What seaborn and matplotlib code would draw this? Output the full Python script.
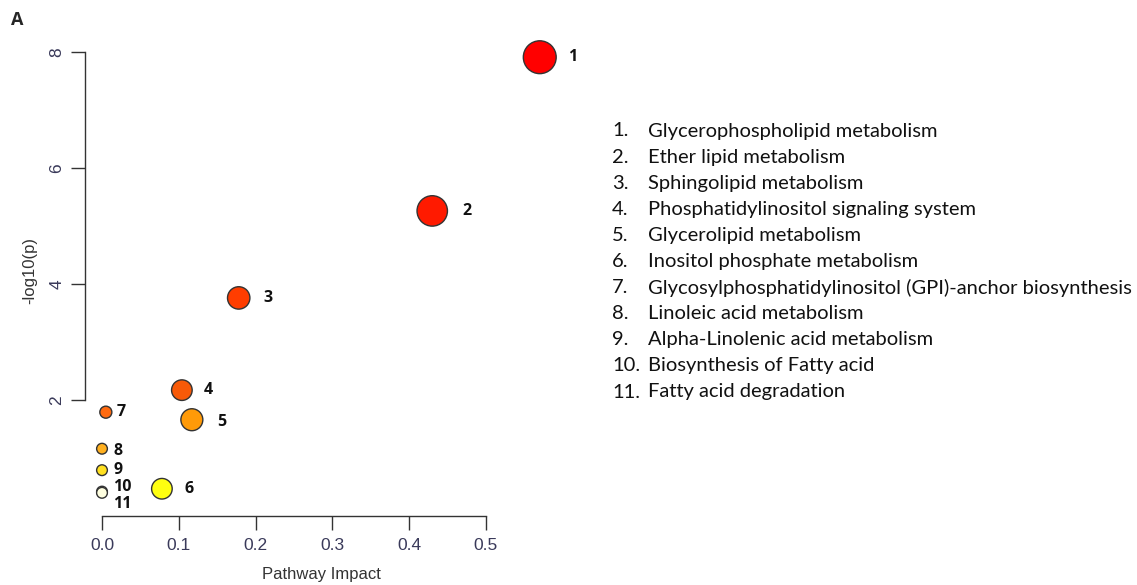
import matplotlib
matplotlib.use("Agg")
import matplotlib.pyplot as plt
import seaborn as sns
import pandas as pd

# pathway data
labels = ["1", "2", "3", "4", "5", "6", "7", "8", "9", "10", "11"]
impact = [0.570, 0.430, 0.178, 0.104, 0.117, 0.078, 0.005, 0.0, 0.0, 0.0, 0.0]
logp = [7.91, 5.26, 3.76, 2.17, 1.66, 0.47, 1.79, 1.16, 0.79, 0.42, 0.40]
colors = ["#FF0000", "#FF1A00", "#FF3D00", "#F85A08", "#FF9A08", "#FFFF10",
          "#FF6A10", "#FFB020", "#FFE020", "#FFFFE0", "#FFFFE0"]
sizes = [560, 480, 260, 220, 250, 220, 75, 60, 60, 60, 60]
pathways = ["Glycerophospholipid metabolism",
            "Ether lipid metabolism",
            "Sphingolipid metabolism",
            "Phosphatidylinositol signaling system",
            "Glycerolipid metabolism",
            "Inositol phosphate metabolism",
            "Glycosylphosphatidylinositol (GPI)-anchor biosynthesis",
            "Linoleic acid metabolism",
            "Alpha-Linolenic acid metabolism",
            "Biosynthesis of Fatty acid",
            "Fatty acid degradation"]

df = pd.DataFrame({"impact": impact, "logp": logp, "label": labels})

sns.set_style("white")
plt.rcParams["font.family"] = ["Liberation Sans", "DejaVu Sans"]

fig = plt.figure(figsize=(11.37, 5.85), dpi=100)
W, H = 1137, 585
# axes box in pixels: left 85, bottom 516, right 600, top 30
AX_L, AX_B, AX_R, AX_T = 85, 516, 600, 30
ax = fig.add_axes([AX_L / W, 1 - AX_B / H, (AX_R - AX_L) / W, (AX_B - AX_T) / H])

sns.scatterplot(data=df, x="impact", y="logp", hue="label", size="label",
                palette=dict(zip(labels, colors)), sizes=dict(zip(labels, sizes)),
                hue_order=labels, size_order=labels,
                edgecolor="#333333", linewidth=1.0, legend=False, ax=ax, zorder=3)

# x: 0.0 at 102 px, 0.5 at 486 px
px_per_unit = (486 - 102) / 0.5
ax.set_xlim(-(102 - AX_L) / px_per_unit, (AX_R - 102) / px_per_unit)
# y: 8 at 52 px, 58 px per unit, 0 at 516 px
ax.set_ylim(0, (AX_B - AX_T) / 58)

ax.spines[["top", "right"]].set_visible(False)
ax.spines["left"].set_bounds(2, 8)
ax.spines["bottom"].set_bounds(0, 0.5)
for s in ["left", "bottom"]:
    ax.spines[s].set_color("#333333")
    ax.spines[s].set_linewidth(1.0)

ax.set_xticks([0.0, 0.1, 0.2, 0.3, 0.4, 0.5])
ax.set_xticklabels(["0.0", "0.1", "0.2", "0.3", "0.4", "0.5"])
ax.set_yticks([2, 4, 6, 8])
ax.set_yticklabels(["2", "4", "6", "8"], rotation=90, va="center")
ax.tick_params(axis="both", length=10, width=1.0, color="#333333",
               labelsize=12.5, labelcolor="#3a3a5a", direction="out",
               bottom=True, left=True)
ax.tick_params(axis="x", pad=6)
ax.tick_params(axis="y", pad=5)

ax.set_xlabel("Pathway Impact", fontsize=12, color="#333333")
ax.set_ylabel("-log10(p)", fontsize=12, color="#333333")
ax.xaxis.set_label_coords((321 - AX_L) / (AX_R - AX_L), -(567 - AX_B) / (AX_B - AX_T))
ax.yaxis.set_label_coords(-(AX_L - 37) / (AX_R - AX_L), (AX_B - 270) / (AX_B - AX_T))

# number labels next to points
offsets = {"1": (20, 0), "2": (22, 0), "3": (18, 0), "4": (16, 0), "5": (18, -2),
           "6": (16, 0), "7": (8, 0), "8": (8, -2), "9": (8, 0), "10": (8, 3),
           "11": (8, -8)}
for lab, xv, yv in zip(labels, impact, logp):
    dx, dy = offsets[lab]
    ax.annotate(lab, (xv, yv), xytext=(dx, dy), textcoords="offset points",
                ha="left", va="center", fontsize=11.5, fontweight="bold",
                family=["Open Sans", "DejaVu Sans"], color="#111111")

# pathway list on the right
for i, name in enumerate(pathways):
    ypix = 131 + i * 26.1
    fig.text(612 / W, 1 - ypix / H, f"{i + 1}.", fontsize=14.5, va="center",
             ha="left", family=["Lato", "DejaVu Sans"], color="#111111")
    fig.text(648 / W, 1 - ypix / H, name, fontsize=14.5, va="center",
             ha="left", family=["Lato", "DejaVu Sans"], color="#111111")

fig.text(11 / W, 1 - 20 / H, "A", fontsize=13, fontweight="bold",
         va="center", ha="left", family=["Open Sans", "DejaVu Sans"])

fig.savefig("out.png", dpi=100)
